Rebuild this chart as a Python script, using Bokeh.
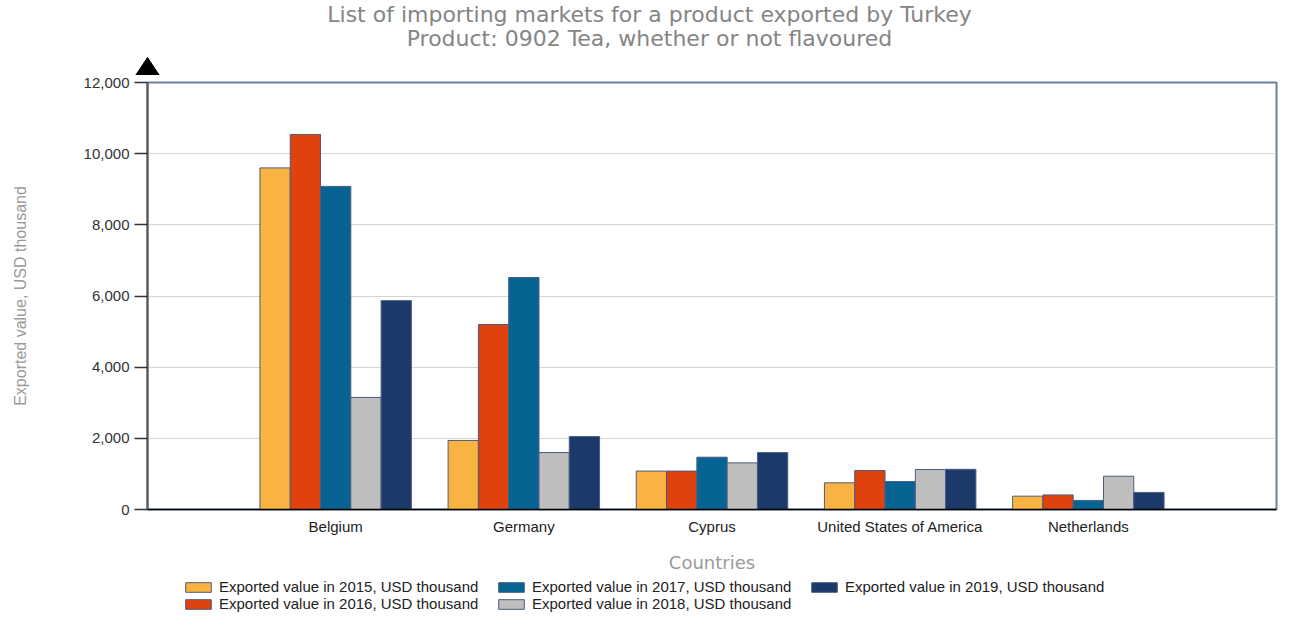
from bokeh.plotting import figure
from bokeh.layouts import column
from bokeh.core.properties import value
from bokeh.models import (Range1d, FixedTicker, Legend, LegendItem, Arrow,
                          NumeralTickFormatter, ColumnDataSource)
from bokeh.embed import file_html
from bokeh.resources import INLINE
import numpy as np

title_lines = ["List of importing markets for a product exported by Turkey",
               "Product: 0902 Tea, whether or not flavoured"]
countries = ["Belgium", "Germany", "Cyprus", "United States of America", "Netherlands"]
years = ["2015", "2016", "2017", "2018", "2019"]
v2015 = [9600, 1940, 1080, 750, 375]
v2016 = [10540, 5200, 1080, 1095, 410]
v2017 = [9080, 6520, 1470, 785, 255]
v2018 = [3150, 1600, 1310, 1125, 935]
v2019 = [5870, 2050, 1600, 1130, 480]
series = [v2015, v2016, v2017, v2018, v2019]
colors = ["#F9B342", "#E0420D", "#066392", "#BEBEBE", "#1B3A69"]
y_ticks = [0, 2000, 4000, 6000, 8000, 10000, 12000]
OUTLINE = "#4a5d80"

W, H0, H1, H2 = 1278, 75, 502, 35
BL, BR, BT, BB = 147, 2, 7, 68

# ---------------- header strip: titles + axis arrow head ----------------
t = figure(width=W, height=H0, output_backend="svg", toolbar_location=None,
           x_range=Range1d(0, W), y_range=Range1d(H0, 0),
           x_axis_location=None, y_axis_location=None, frame_align=False,
           min_border_left=0, min_border_right=0, min_border_top=0, min_border_bottom=0)
t.grid.visible = False
t.outline_line_color = None
t.text(x=[649, 649], y=[14, 38], text=title_lines, text_align="center",
       text_baseline="middle", text_font=value("DejaVu Sans"), text_font_size="22px",
       text_color="#858585")
t.patch(x=[BL - 12, BL, BL + 12], y=[H0, H0 - 18, H0], fill_color="black", line_color="black")

# ---------------- main chart ----------------
p = figure(width=W, height=H1, output_backend="svg", toolbar_location=None,
           x_range=Range1d(0, len(countries) + 1), y_range=Range1d(0, 12000),
           min_border_left=BL, min_border_right=BR, min_border_top=BT, min_border_bottom=BB)
p.background_fill_color = "white"
p.border_fill_color = "white"
p.outline_line_color = "#6d819f"
p.outline_line_width = 2

fh = H1 - BT - BB
ppy = fh / 12000.0

xpos = np.arange(1, len(countries) + 1)
bw = 0.161
for k, (vals, c) in enumerate(zip(series, colors)):
    src = ColumnDataSource(dict(x=xpos + (k - 2) * bw, top=vals))
    p.vbar(x="x", top="top", width=bw, bottom=0, source=src, fill_color=c,
           line_color=OUTLINE, line_width=1)

p.xaxis.ticker = FixedTicker(ticks=list(xpos))
p.xaxis.major_label_overrides = {int(i): c for i, c in zip(xpos, countries)}
p.xaxis.major_tick_line_color = None
p.xaxis.major_tick_out = 0
p.xaxis.minor_tick_line_color = None
p.xaxis.axis_line_color = "black"
p.xaxis.axis_line_width = 1.5
p.xaxis.major_label_standoff = 8
p.xaxis.major_label_text_font = "Liberation Sans"
p.xaxis.major_label_text_font_size = "15px"
p.xaxis.major_label_text_color = "#222222"
p.xaxis.axis_label = "Countries"
p.xaxis.axis_label_text_font = "DejaVu Sans"
p.xaxis.axis_label_text_font_style = "normal"
p.xaxis.axis_label_text_font_size = "18px"
p.xaxis.axis_label_text_color = "#9a9a9a"
p.xaxis.axis_label_standoff = 14

p.yaxis.ticker = FixedTicker(ticks=y_ticks)
p.yaxis.formatter = NumeralTickFormatter(format="0,0")
p.yaxis.major_tick_out = 13
p.yaxis.major_tick_in = 0
p.yaxis.major_tick_line_color = "#333333"
p.yaxis.major_tick_line_width = 1.5
p.yaxis.minor_tick_line_color = None
p.yaxis.axis_line_color = "#555555"
p.yaxis.axis_line_width = 2
p.yaxis.major_label_standoff = 5
p.yaxis.major_label_text_font = "Liberation Sans"
p.yaxis.major_label_text_font_size = "15px"
p.yaxis.major_label_text_color = "#333333"
p.yaxis.axis_label = "Exported value, USD thousand"
p.yaxis.axis_label_text_font = "Liberation Sans"
p.yaxis.axis_label_text_font_style = "normal"
p.yaxis.axis_label_text_font_size = "16px"
p.yaxis.axis_label_text_color = "#9a9a9a"
p.yaxis.axis_label_standoff = 52

p.xgrid.grid_line_color = None
p.ygrid.grid_line_color = "#d4d4d4"
p.ygrid.grid_line_width = 1

# short stem of the y axis up to the arrow head
p.add_layout(Arrow(end=None, x_start=0, y_start=12000, x_end=0, y_end=12000 + (BT + 1) / ppy,
                   line_color="#555555", line_width=2))

# ---------------- legend strip ----------------
q = figure(width=W, height=H2, output_backend="svg", toolbar_location=None,
           x_range=Range1d(0, 1), y_range=Range1d(0, 1),
           x_axis_location=None, y_axis_location=None, frame_align=False,
           min_border_left=0, min_border_right=0, min_border_top=0, min_border_bottom=0)
q.grid.visible = False
q.outline_line_color = None
items = []
for yr, c in zip(years, colors):
    # legend proxies, kept outside the visible range of this strip
    src = ColumnDataSource(dict(x=[-1.0], top=[-0.5]))
    r = q.vbar(x="x", top="top", bottom=-1.0, width=0.1, source=src, fill_color=c,
               line_color=OUTLINE, line_width=1)
    items.append(LegendItem(label=f"Exported value in {yr}, USD thousand", renderers=[r]))
legend = Legend(items=items, location=(182, 0), orientation="vertical", nrows=2,
                glyph_width=32, glyph_height=12, label_standoff=5, spacing=0, padding=0,
                margin=0, label_height=12, label_width=276, label_text_font="Liberation Sans",
                label_text_font_size="15px", label_text_color="#222222",
                background_fill_alpha=0, border_line_color=None)
q.add_layout(legend, "center")

open("out.html", "w").write(file_html(column(t, p, q, spacing=0), INLINE))
